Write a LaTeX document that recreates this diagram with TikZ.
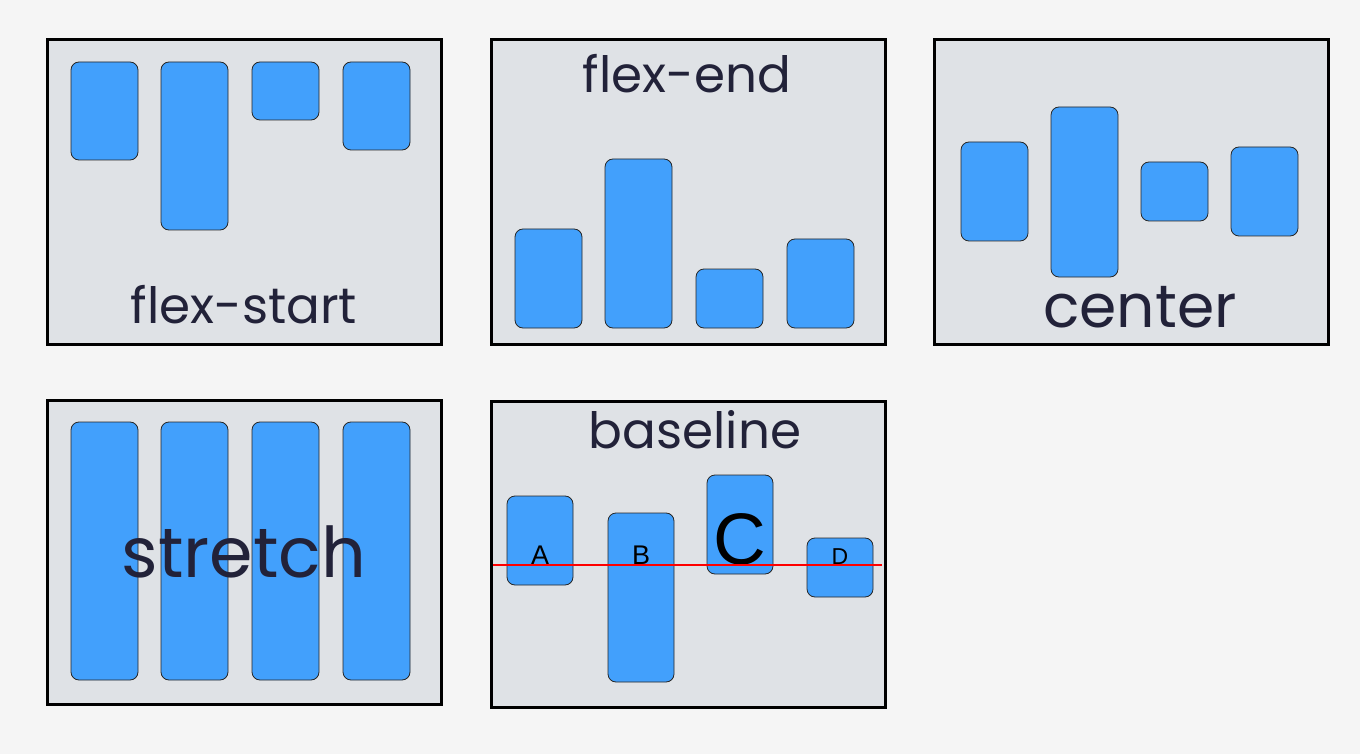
\documentclass[tikz,border=0pt]{standalone}
\usepackage{fontspec}
\setmainfont{Poppins}
\newfontfamily\letterfont{Liberation Sans}
\usetikzlibrary{positioning}

\definecolor{pagebg}{HTML}{F5F5F5}
\definecolor{panelgray}{HTML}{DFE2E6}
\definecolor{itemblue}{HTML}{42A0FC}
\definecolor{labelnavy}{HTML}{222239}

\tikzset{
  panel/.style={draw=black, line width=3pt, fill=panelgray},
  item/.style={draw=black!85, line width=0.8pt, fill=itemblue, rounded corners=8pt},
  caption/.style={text=labelnavy, inner sep=0pt, anchor=base},
  letter/.style={text=black, inner sep=0pt, anchor=base},
}

\begin{document}
\begin{tikzpicture}[x=1pt,y=-1pt]

\fill[pagebg] (0,0) rectangle (1360,754);
\useasboundingbox (0,0) rectangle (1360,754);

% panels
\foreach \left/\top/\bot in {47/40/344, 491/40/344, 934/40/344, 47/400/704, 491/401/707}
    \draw[panel] (\left,\top) rectangle (\left+394,\bot);

% flex-start
\foreach \x/\bot in {71/160, 161/230, 252/120, 343/150}
    \draw[item] (\x,62) rectangle (\x+67,\bot);
\node[caption, font=\fontsize{50}{50}\selectfont] (startlabel) at (244,323) {flex-start};

% flex-end
\foreach \x/\top in {515/229, 605/159, 696/269, 787/239}
    \draw[item] (\x,\top) rectangle (\x+67,328);
\node[caption, font=\fontsize{50}{50}\selectfont] (endlabel) at (687,93) {flex-end};

% center
\foreach \x/\top/\bot in {961/142/241, 1051/107/277, 1141/162/221, 1231/147/236}
    \draw[item] (\x,\top) rectangle (\x+67,\bot);
\node[caption, font=\fontsize{60}{60}\selectfont] (centerlabel) at (1140,327) {center};

% stretch
\foreach \x in {71,161,252,343}
    \draw[item] (\x,422) rectangle (\x+67,680);
\node[caption, font=\fontsize{70}{70}\selectfont] (stretchlabel) at (244,577) {stretch};

% baseline
\foreach \x/\top/\bot in {507/496/585, 608/513/682, 707/475/574, 807/538/597}
    \draw[item] (\x,\top) rectangle (\x+66,\bot);
\node[caption, font=\fontsize{50}{50}\selectfont] (baselinelabel) at (695,448) {baseline};

\node[letter, font=\letterfont\fontsize{27}{27}\selectfont] (letterA) at (540,564) {A};
\node[letter, font=\letterfont\fontsize{27}{27}\selectfont] (letterB) at (641,564) {B};
\node[letter, font=\letterfont\fontsize{73}{73}\selectfont] (letterC) at (740,564) {C};
\node[letter, font=\letterfont\fontsize{23}{23}\selectfont] (letterD) at (840,564) {D};

\draw[red, line width=2pt] (493,565) -- (882,565);

\end{tikzpicture}
\end{document}
